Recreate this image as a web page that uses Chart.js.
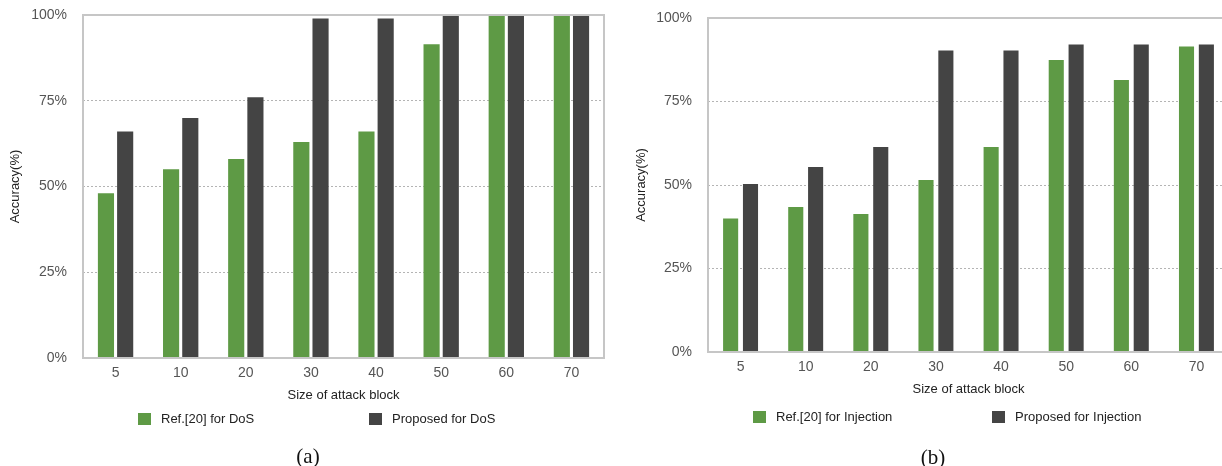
<!DOCTYPE html>
<html>
<head>
<meta charset="utf-8">
<script src="https://cdn.jsdelivr.net/npm/chart.js@4"></script>
<style>
  html, body { margin: 0; padding: 0; background: #fff; width: 1222px; height: 466px; overflow: hidden; position: relative; }
  canvas { position: absolute; top: 0; }
  #chartA { left: 0; }
  #chartB { left: 626px; }
  .caption { position: absolute; font-family: "Liberation Serif", "DejaVu Serif", serif; font-size: 21px; color: #111; transform: translate(-50%, -50%); }
</style>
</head>
<body>
<canvas id="chartA" width="620" height="466"></canvas>
<canvas id="chartB" width="619" height="466"></canvas>
<div class="caption" style="left:308px; top:456px;">(a)</div>
<div class="caption" style="left:933px; top:457px;">(b)</div>
<script>
// Attack block sizes along the x axis
const blockSizes = ['5', '10', '20', '30', '40', '50', '60', '70'];
// Accuracy (%) for DoS attacks
const dosRef = [48, 55, 58, 63, 66, 91.5, 100, 100];
const dosProposed = [66, 70, 76, 99, 99, 100, 100, 100];
// Accuracy (%) for injection attacks
const injRef = [40, 43.4, 41.3, 51.5, 61.4, 87.4, 81.4, 91.5];
const injProposed = [50.3, 55.4, 61.4, 90.3, 90.3, 92.1, 92.1, 92.1];
// Accuracy axis ticks
const accuracyTicks = [0, 25, 50, 75, 100];

const GREEN = '#5e9a45';
const DARK = '#444444';
const FONT = '"Liberation Sans", Arial, Helvetica, sans-serif';

// Light gray box around the plotting area
const framePlugin = {
  id: 'frame',
  afterDatasetsDraw(chart, args, opts) {
    const { ctx, chartArea: a } = chart;
    ctx.save();
    ctx.strokeStyle = opts.color;
    ctx.lineWidth = opts.width;
    ctx.strokeRect(a.left, a.top, a.right - a.left, a.bottom - a.top);
    ctx.restore();
  }
};

// Single row of legend keys below the axis title
const keyRowPlugin = {
  id: 'keyRow',
  afterDraw(chart, args, opts) {
    const { ctx, chartArea: a } = chart;
    const y = a.bottom + opts.offsetY;
    ctx.save();
    ctx.font = '13px ' + FONT;
    ctx.textBaseline = 'middle';
    ctx.textAlign = 'left';
    chart.data.datasets.forEach((ds, i) => {
      const x = a.left + opts.starts[i];
      ctx.fillStyle = ds.backgroundColor;
      ctx.fillRect(x, y - 6, 13, 12);
      ctx.fillStyle = '#222';
      ctx.fillText(ds.label, x + 23, y);
    });
    ctx.restore();
  }
};

function makeChart(id, cfg) {
  return new Chart(document.getElementById(id), {
    type: 'bar',
    data: {
      labels: blockSizes,
      datasets: [
        { label: cfg.labels[0], data: cfg.series[0], backgroundColor: GREEN,
          categoryPercentage: cfg.cat, barPercentage: cfg.bar },
        { label: cfg.labels[1], data: cfg.series[1], backgroundColor: DARK,
          categoryPercentage: cfg.cat, barPercentage: cfg.bar }
      ]
    },
    plugins: [framePlugin, keyRowPlugin],
    options: {
      responsive: false,
      animation: false,
      devicePixelRatio: 1,
      layout: { padding: cfg.padding },
      plugins: {
        legend: { display: false },
        tooltip: { enabled: false },
        frame: { color: '#c6c6c6', width: 2 },
        keyRow: { offsetY: cfg.keyOffset, starts: cfg.keyStarts }
      },
      scales: {
        x: {
          grid: { display: false, drawTicks: false },
          border: { display: false },
          ticks: { color: '#555', font: { size: 14, family: FONT }, padding: cfg.xTickPad, maxRotation: 0 },
          title: { display: true, text: 'Size of attack block', color: '#222',
                   font: { size: 13, family: FONT }, padding: { top: 0, bottom: 0 } },
          afterFit(s) { s.height = cfg.xHeight; s.paddingLeft = 0; s.paddingRight = 0; }
        },
        y: {
          min: 0, max: 100,
          afterBuildTicks(s) { s.ticks = accuracyTicks.map(v => ({ value: v })); },
          grid: {
            drawTicks: false,
            color: c => (c.tick.value > 0 && c.tick.value < 100) ? '#b4b4b4' : 'rgba(0,0,0,0)',
            lineWidth: 1
          },
          border: { display: false, dash: [2, 2] },
          ticks: { color: '#555', font: { size: 14, family: FONT }, padding: 16,
                   callback: v => v + '%' },
          title: { display: true, text: 'Accuracy(%)', color: '#222',
                   font: { size: 13, family: FONT }, padding: { top: 8, bottom: 0 } },
          afterFit(s) { s.width = cfg.yWidth; s.paddingTop = 0; s.paddingBottom = 0; }
        }
      }
    }
  });
}

makeChart('chartA', {
  labels: ['Ref.[20] for DoS', 'Proposed for DoS'],
  series: [dosRef, dosProposed],
  cat: 0.59, bar: 0.84,
  padding: { left: 0, top: 15, right: 16, bottom: 63 },
  yWidth: 83, xHeight: 45, xTickPad: 7,
  keyOffset: 61, keyStarts: [55, 286]
});

makeChart('chartB', {
  labels: ['Ref.[20] for Injection', 'Proposed for Injection'],
  series: [injRef, injProposed],
  cat: 0.61, bar: 0.76,
  padding: { left: 0, top: 18, right: 16, bottom: 69 },
  yWidth: 82, xHeight: 45, xTickPad: 7,
  keyOffset: 65, keyStarts: [45, 284]
});
</script>
</body>
</html>
